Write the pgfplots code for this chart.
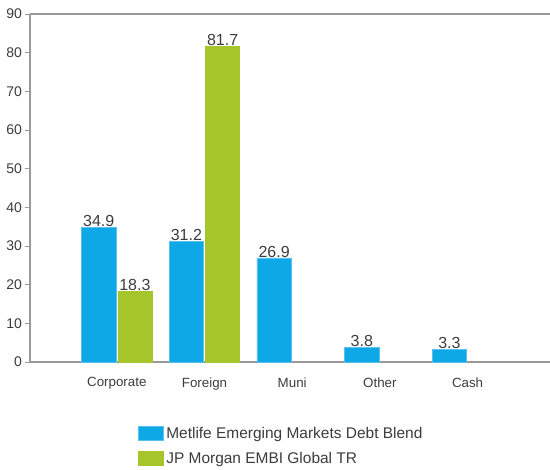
\documentclass[border=0pt]{standalone}
\usepackage{pgfplots}
\pgfplotsset{compat=1.18}
\usepackage{fontspec}
\setmainfont{Liberation Sans}
\definecolor{mblue}{HTML}{0FA8E6}
\definecolor{mgreen}{HTML}{A5C52A}
\definecolor{axgray}{HTML}{9A9A9A}
\definecolor{txt}{HTML}{3C3C3C}
\begin{document}
\begin{tikzpicture}[x=0.75pt,y=0.75pt]
\path[use as bounding box] (-30,-108) rectangle (520,362);
\begin{axis}[
  at={(0,0)}, anchor=south west,
  scale only axis, width=390pt, height=261pt,
  xmin=-0.99, xmax=4.94, ymin=0, ymax=90,
  axis x line=bottom, axis y line=left,
  axis line style={axgray, line width=0.8pt, -},
  ytick={0,10,...,90},
  xtick={0,1,2,3,4},
  xticklabels={Corporate,Foreign,Muni,Other,Cash},
  tick align=outside,
  y tick style={axgray, line width=0.6pt},
  major tick length=4pt,
  x tick style={draw=none},
  yticklabel style={font=\fontsize{10.5}{12}\selectfont, text=txt, xshift=1.5pt},
  xticklabel style={font=\fontsize{10}{12}\selectfont, text=txt, yshift=-4pt},
  /pgf/number format/assume math mode=true,
  ybar=1.5pt, bar width=0.39,
  nodes near coords={\pgfmathprintnumber[fixed,precision=1,fixed zerofill]{\pgfplotspointmeta}},
  every node near coord/.append style={font=\fontsize{12}{14}\selectfont, text=txt, inner sep=0.3pt, anchor=south},
  legend style={at={(0.199,-0.172)}, anchor=north west, draw=none, fill=none,
    font=\fontsize{11.6}{13}\selectfont, text=txt, row sep=4.5pt},
  legend cell align=left,
  legend image code/.code={\fill[#1] (0pt,-5pt) rectangle (19pt,5.5pt);},
  clip=false,
]
\addplot[fill=mblue, draw=mblue!70!white, line width=0.4pt] coordinates {(0,34.9) (1,31.2) (2,26.9) (3,3.8) (4,3.3)};
\addlegendentry{Metlife Emerging Markets Debt Blend}
\addplot[fill=mgreen, draw=mgreen, line width=0.4pt] coordinates {(0,18.3) (1,81.7)};
\addlegendentry{JP Morgan EMBI Global TR}
\draw[axgray, line width=0.8pt] (rel axis cs:0,1) -- (rel axis cs:1,1);
\end{axis}
\end{tikzpicture}
\end{document}
